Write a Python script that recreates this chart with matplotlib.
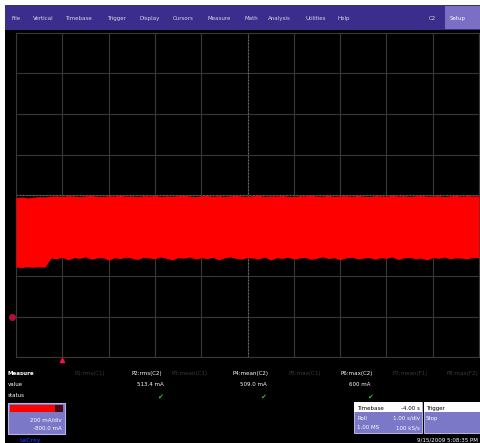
import numpy as np
import matplotlib
matplotlib.use('Agg')
from matplotlib import pyplot as plt
from matplotlib.patches import Rectangle

# trace envelope, mA (0.125 s steps from -1 s to 9 s)
upper_ma = [588, 590, 586, 589, 592, 591, 594, 596, 593, 597, 595, 592, 596, 598, 594, 593,
            597, 595, 599, 594, 596, 592, 597, 595, 598, 593, 596, 594, 597, 599, 595, 592,
            596, 598, 594, 597, 593, 596, 598, 595, 594, 597, 599, 593, 596, 595, 598, 594,
            592, 597, 596, 599, 594, 595, 598, 593, 596, 597, 594, 598, 595, 592, 597, 596,
            594, 599, 595, 597, 593, 596, 598, 594, 595, 597, 592, 596, 598, 594, 597, 595, 596]
lower_ma = [244, 242, 246, 243, 245, 244, 288, 285, 292, 280, 290, 287, 294, 283, 289, 291,
            278, 290, 286, 293, 288, 281, 292, 289, 285, 294, 287, 279, 291, 288, 293, 284,
            290, 286, 292, 280, 289, 294, 287, 283, 291, 288, 285, 293, 279, 290, 287, 292,
            284, 289, 291, 282, 288, 294, 286, 290, 280, 289, 293, 285, 288, 291, 283, 290,
            287, 294, 281, 289, 292, 286, 288, 279, 291, 287, 293, 284, 290, 288, 285, 292, 289]
t_start, t_stop = -1.0, 9.0
time_s = np.linspace(t_start, t_stop, len(lower_ma))

menu_items = ['File', 'Vertical', 'Timebase', 'Trigger', 'Display', 'Cursors',
              'Measure', 'Math', 'Analysis', 'Utilities', 'Help']
menu_x = [12, 33, 65, 107, 139, 173, 207, 245, 268, 305, 337]

param_labels = ['P1:rms(C1)', 'P2:rms(C2)', 'P3:mean(C1)', 'P4:mean(C2)',
                'P5:max(C1)', 'P6:max(C2)', 'P7:mean(F1)', 'P8:max(F2)']
param_x = [90, 147, 190, 250, 305, 357, 410, 462]
param_active = [False, True, False, True, False, True, False, False]
param_values = ['', '513.4 mA', '', '509.0 mA', '', '600 mA', '', '']

W, H = 480, 443
def fx(x):
    return x / W
def fy(y):
    return 1 - y / H

fig = plt.figure(figsize=(4.8, 4.43), dpi=100, facecolor='white')

def rect(x0, y0, x1, y1, z=1, **kw):
    fig.patches.append(Rectangle((fx(x0), fy(y1)), (x1 - x0) / W, (y1 - y0) / H,
                                 transform=fig.transFigure, zorder=z, **kw))

def txt(x, y, s, **kw):
    kw.setdefault('fontsize', 4)
    kw.setdefault('color', 'white')
    kw.setdefault('va', 'center_baseline')
    fig.text(fx(x), fy(y), s, family='DejaVu Sans', zorder=5, **kw)

# screen + menu bar
rect(5, 5, 480, 443, z=-10, facecolor='black', edgecolor='none')
rect(5, 5, 480, 30, facecolor='#3b2d8c', edgecolor='none')
rect(445, 6, 480, 29, facecolor='#7a6fc4', edgecolor='none')
for name, x in zip(menu_items, menu_x):
    txt(x, 18, name, color='#d8d4ee')
txt(429, 18, 'C2', color='#d8d4ee')
txt(450, 18, 'Setup', color='white')

# grid area
ax = fig.add_axes([fx(16), fy(357), (479 - 16) / W, (357 - 33) / H])
ax.set_facecolor('black')
ax.set_xlim(t_start, t_stop)
ax.set_ylim(-200, 1400)
ax.set_xticks(np.arange(-1, 9.1, 1))
ax.set_yticks(np.arange(-200, 1401, 200))
ax.grid(True, color='#383838', lw=0.8)
ax.tick_params(length=0, labelleft=False, labelbottom=False)
for s in ax.spines.values():
    s.set_color('#383838')
    s.set_linewidth(0.8)
ax.axvline(4, color='#707070', lw=0.8, ls=(0, (1, 2)))
ax.axhline(600, color='#707070', lw=0.8, ls=(0, (1, 2)))

ax.fill_between(time_s, lower_ma, upper_ma, color='#ff0000', lw=0, zorder=3)

# ground marker and trigger marker
ax.plot([-1.08], [0], marker='o', ms=4, color='#b01038', clip_on=False)
ax.plot([0], [-215], marker='^', ms=3, color='#ff1040', clip_on=False)

# measure table
txt(8, 373, 'Measure', fontweight='bold')
txt(8, 384, 'value')
txt(8, 395, 'status')
for lab, x, act, val in zip(param_labels, param_x, param_active, param_values):
    txt(x, 373, lab, ha='center', color='white' if act else '#3a3a3a')
    if val:
        txt(x + 3, 384, val, ha='center')
        txt(x + 13, 396, '\u2714', ha='center', color='#30c030', fontsize=5)

# channel descriptor box
rect(8, 403, 65, 434, facecolor='#7b78c8', edgecolor='#b8b4e8', lw=0.8)
rect(10, 405, 63, 412, facecolor='#ff0000', edgecolor='none')
rect(55, 405, 63, 412, facecolor='#4a0a14', edgecolor='none')
txt(62, 420, '200 mA/div', ha='right')
txt(62, 428, '-800.0 mA', ha='right')
txt(20, 440, 'LeCroy', color='#1428d0', fontsize=4, fontweight='bold')

# timebase / trigger boxes
rect(354, 402, 422, 433, facecolor='#7b78c8', edgecolor='#d0ccf0', lw=0.6)
rect(354, 402, 422, 412, facecolor='white', edgecolor='none')
txt(357, 408, 'Timebase', color='black')
txt(420, 408, '-4.00 s', color='black', ha='right')
txt(357, 418, 'Roll')
txt(420, 418, '1.00 s/div', ha='right')
txt(357, 427, '1.00 MS')
txt(420, 427, '100 kS/s', ha='right')
rect(424, 402, 480, 433, facecolor='#7b78c8', edgecolor='#d0ccf0', lw=0.6)
rect(424, 402, 480, 412, facecolor='white', edgecolor='none')
txt(426, 408, 'Trigger', color='black')
txt(426, 418, 'Stop')

txt(478, 440, '9/15/2009 5:08:35 PM', ha='right')

fig.savefig('out.png', dpi=100, facecolor='white')
